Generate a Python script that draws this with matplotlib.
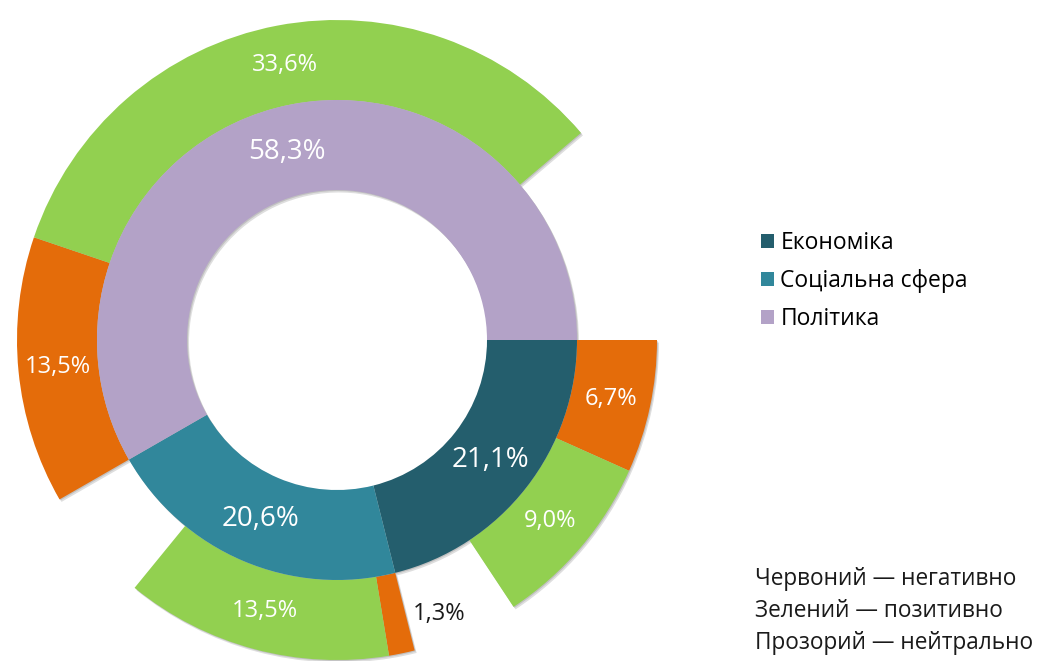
import matplotlib
matplotlib.use("Agg")
import matplotlib.pyplot as plt
from matplotlib.patches import Patch
import numpy as np

plt.rcParams['font.family'] = ['Open Sans', 'DejaVu Sans']

# Частки тем (внутрішнє кільце), %
categories = ['Економіка', 'Соціальна сфера', 'Політика']
shares = [21.1, 20.6, 58.3]

# Тональність у межах кожної теми, %
negative = [6.7, 1.3, 13.5]
positive = [9.0, 13.5, 33.6]
neutral = [5.4, 5.8, 11.2]

notes = ['Червоний — негативно', 'Зелений — позитивно', 'Прозорий — нейтрально']

cat_colors = ['#245E6D', '#31879B', '#B3A2C7']
neg_color = '#E46C0A'
pos_color = '#92D050'
shadow_color = (0, 0, 0, 0.13)

fig = plt.figure(figsize=(10.4, 6.61), dpi=100)
ax = fig.add_axes([0, 0, 1, 1])

# координати в пікселях
cx, cy = 337, 321
r_out, r_mid, r_hole = 320, 240, 150

outer_vals, outer_cols, outer_text = [], [], []
for n, p, z in zip(negative, positive, neutral):
    outer_vals += [n, p, z]
    outer_cols += [neg_color, pos_color, 'none']
    outer_text += [f'{n:.1f}'.replace('.', ','), f'{p:.1f}'.replace('.', ','), None]

pie_kw = dict(startangle=0, counterclock=False)

# легка тінь під кільцями
for dx, dy in [(1, -1), (2, -2.5)]:
    ax.pie(outer_vals, colors=[shadow_color if c != 'none' else 'none' for c in outer_cols],
           radius=r_out, center=(cx + dx, cy + dy),
           wedgeprops=dict(width=r_out - r_mid, linewidth=0), **pie_kw)
    ax.pie(shares, colors=[shadow_color] * len(shares), radius=r_mid, center=(cx + dx, cy + dy),
           wedgeprops=dict(width=r_mid - r_hole, linewidth=0), **pie_kw)

outer, _ = ax.pie(outer_vals, colors=outer_cols, radius=r_out, center=(cx, cy),
                  wedgeprops=dict(width=r_out - r_mid, linewidth=0), **pie_kw)
inner, _ = ax.pie(shares, colors=cat_colors, radius=r_mid, center=(cx, cy),
                  wedgeprops=dict(width=r_mid - r_hole, linewidth=0), **pie_kw)


def mid_point(w, r):
    a = np.deg2rad((w.theta1 + w.theta2) / 2)
    return cx + r * np.cos(a), cy + r * np.sin(a)


for w, v, t in zip(outer, outer_vals, outer_text):
    if t is None:
        continue
    x, y = mid_point(w, 280)
    if v < 3:
        ax.text(x + 45, y, t + '%', ha='center', va='center', fontsize=17, color='#1a1a1a')
    else:
        ax.text(x, y, t + '%', ha='center', va='center', fontsize=17, color='white')

for w, v in zip(inner, shares):
    x, y = mid_point(w, 195)
    ax.text(x, y, f'{v:.1f}'.replace('.', ',') + '%', ha='center', va='center',
            fontsize=20, color='white')

ax.set_xlim(0, 1040)
ax.set_ylim(0, 661)
ax.set_aspect('equal')
ax.axis('off')

handles = [Patch(facecolor=c, edgecolor='none') for c in cat_colors]
ax.legend(handles, categories, loc='upper left', bbox_to_anchor=(761 / 1040, 1 - 231 / 661),
          frameon=False, fontsize=16.5, handlelength=0.55, handleheight=0.55,
          handletextpad=0.3, labelspacing=0.62, borderpad=0, borderaxespad=0)

ax.text(755, 50, '\n'.join(notes), ha='left', va='center', fontsize=16.3,
        color='#1a1a1a', linespacing=1.45)

fig.savefig('out.png', dpi=100)
